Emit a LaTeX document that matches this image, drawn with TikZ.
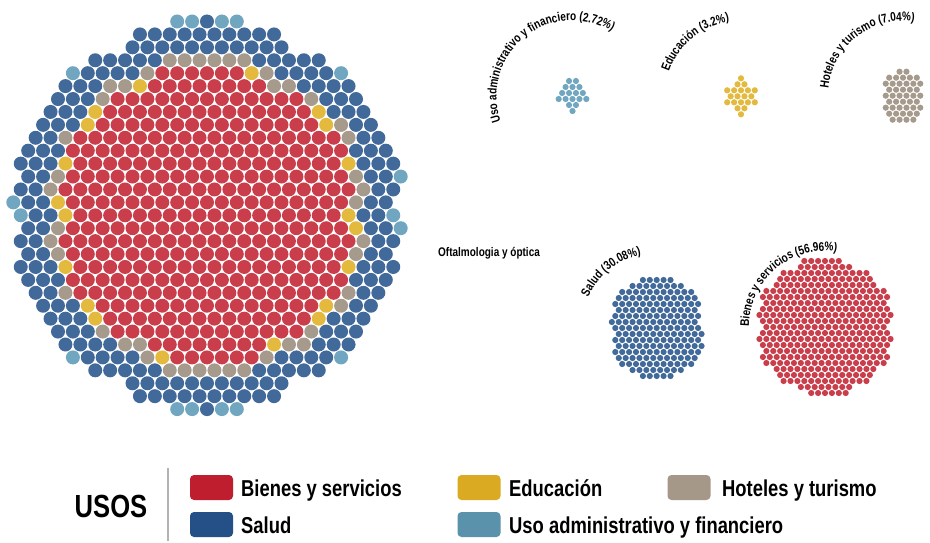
\documentclass[tikz,border=0pt]{standalone}
\usepackage{fontspec}
\setmainfont{Liberation Sans}
\newfontfamily\condf[FakeStretch=0.8]{Liberation Sans}
\usetikzlibrary{decorations.text}

% dot colours
\definecolor{kR}{RGB}{201,62,74}
\definecolor{kB}{RGB}{65,105,153}
\definecolor{kG}{RGB}{166,154,140}
\definecolor{kY}{RGB}{228,186,62}
\definecolor{kL}{RGB}{112,166,192}
% legend colours
\definecolor{lR}{RGB}{190,30,45}
\definecolor{lB}{RGB}{36,80,135}
\definecolor{lG}{RGB}{165,152,136}
\definecolor{lY}{RGB}{218,170,34}
\definecolor{lL}{RGB}{91,146,171}

\newcount\hexm
\newcount\hexk
% #1 row index, #2 first column, #3 list colour/count
\newcommand\hexrow[3]{%
  \global\hexk=#1\relax
  \global\hexm=#2\relax
  \foreach \hcol/\hnum in {#3}{%
    \foreach \hj in {1,...,\hnum}{%
      \fill[fill=k\hcol] ({\hcx+\hsx*(\the\hexm+0.5*mod(\the\hexk,2))},{-(\hcy+\hsy*\the\hexk)}) circle[radius=\hxr];
      \global\advance\hexm by 1\relax
    }%
  }%
}
\newcommand\labfont{\condf\bfseries\fontsize{12.5}{14}\selectfont}

\tikzset{
  swatch/.style={minimum width=43pt, minimum height=25pt, rounded corners=4pt, inner sep=0pt, draw=none},
  legtext/.style={font=\condf\bfseries\fontsize{23}{26}\selectfont, inner sep=0pt, anchor=base west, text=black},
  arclabel/.style={decorate, decoration={text along path, text align=center, text={|\labfont|#1}}}
}

\begin{document}
\begin{tikzpicture}[x=1pt,y=1pt]
\fill[white] (0,0) rectangle (930,-543);
\useasboundingbox (0,0) rectangle (930,-543);

% ---------------- big cluster ----------------
\def\hcx{207}\def\hsx{14.9}\def\hcy{21.5}\def\hsy{12.92}\def\hxr{7}
\hexrow{0}{-2}{L/2,B/1,L/2}
\hexrow{1}{-5}{B/10}
\hexrow{2}{-5}{B/11}
\hexrow{3}{-8}{B/5,G/6,B/5}
\hexrow{4}{-9}{L/1,B/4,G/1,R/6,Y/1,G/1,B/4,L/1}
\hexrow{5}{-10}{B/3,G/2,Y/1,R/8,G/2,B/4}
\hexrow{6}{-10}{B/3,G/1,R/13,G/1,B/3}
\hexrow{7}{-11}{B/3,Y/1,R/14,Y/1,B/3}
\hexrow{8}{-11}{B/3,Y/1,R/15,Y/1,G/1,B/2}
\hexrow{9}{-12}{B/2,G/1,R/18,G/1,B/2}
\hexrow{10}{-12}{B/3,R/19,B/3}
\hexrow{11}{-13}{B/3,Y/1,R/18,Y/1,B/3}
\hexrow{12}{-12}{B/2,G/1,R/19,G/1,B/2,L/1}
\hexrow{13}{-13}{B/2,G/1,R/20,G/1,B/2}
\hexrow{14}{-13}{L/1,B/2,Y/1,R/19,G/1,B/2}
\hexrow{15}{-13}{L/1,B/2,Y/1,R/18,Y/1,B/2,L/1}
\hexrow{16}{-12}{B/2,G/1,R/19,Y/1,B/2,L/1}
\hexrow{17}{-13}{B/2,G/1,R/20,G/1,B/2}
\hexrow{18}{-12}{B/2,G/1,R/19,G/1,B/2}
\hexrow{19}{-13}{B/3,Y/1,R/18,Y/1,B/3}
\hexrow{20}{-12}{B/3,R/19,B/3}
\hexrow{21}{-12}{B/2,G/1,R/18,G/1,B/2}
\hexrow{22}{-11}{B/3,Y/1,R/15,Y/1,G/1,B/2}
\hexrow{23}{-11}{B/3,Y/1,R/14,Y/1,B/3}
\hexrow{24}{-10}{B/3,G/1,R/13,G/1,B/3}
\hexrow{25}{-10}{B/4,G/2,R/8,Y/1,G/2,B/3}
\hexrow{26}{-9}{L/1,B/4,G/1,Y/1,R/6,G/1,B/4,L/1}
\hexrow{27}{-8}{B/5,G/6,B/5}
\hexrow{28}{-5}{B/11}
\hexrow{29}{-5}{B/10}
\hexrow{30}{-2}{L/2,B/1,L/2}

% ---------------- small clusters ----------------
\def\hsx{6.9}\def\hsy{6.0}\def\hxr{3.1}
% uso administrativo
\def\hcx{572.5}\def\hcy{75}
\hexrow{1}{-1}{L/2}
\hexrow{2}{-1}{L/3}
\hexrow{3}{-2}{L/4}
\hexrow{4}{-2}{L/5}
\hexrow{5}{-1}{L/2}
\hexrow{6}{0}{L/1}
% educacion
\def\hcx{741}\def\hcy{78.3}
\hexrow{0}{0}{Y/1}
\hexrow{1}{-1}{Y/2}
\hexrow{2}{-2}{Y/5}
\hexrow{3}{-2}{Y/4}
\hexrow{4}{-2}{Y/5}
\hexrow{5}{-1}{Y/2}
\hexrow{6}{0}{Y/1}
% hoteles
\def\hcx{903}\def\hcy{65.7}
\hexrow{1}{-1}{G/2}
\hexrow{2}{-2}{G/5}
\hexrow{3}{-3}{G/6}
\hexrow{4}{-2}{G/5}
\hexrow{5}{-3}{G/6}
\hexrow{6}{-2}{G/5}
\hexrow{7}{-3}{G/6}
\hexrow{8}{-2}{G/5}
\hexrow{9}{-2}{G/4}
% salud
\def\hcx{656.7}\def\hcy{280}
\hexrow{0}{-2}{B/5}
\hexrow{1}{-4}{B/8}
\hexrow{2}{-5}{B/11}
\hexrow{3}{-6}{B/12}
\hexrow{4}{-6}{B/13}
\hexrow{5}{-6}{B/12}
\hexrow{6}{-6}{B/13}
\hexrow{7}{-7}{B/13}
\hexrow{8}{-6}{B/13}
\hexrow{9}{-6}{B/13}
\hexrow{10}{-6}{B/13}
\hexrow{11}{-6}{B/13}
\hexrow{12}{-6}{B/13}
\hexrow{13}{-6}{B/12}
\hexrow{14}{-5}{B/11}
\hexrow{15}{-4}{B/8}
\hexrow{16}{-2}{B/5}
% bienes y servicios
\def\hcx{825}\def\hcy{237}
\hexrow{4}{-3}{R/6}
\hexrow{5}{-4}{R/8}
\hexrow{6}{-6}{R/13}
\hexrow{7}{-7}{R/14}
\hexrow{8}{-7}{R/15}
\hexrow{9}{-9}{R/18}
\hexrow{10}{-9}{R/19}
\hexrow{11}{-9}{R/18}
\hexrow{12}{-9}{R/19}
\hexrow{13}{-10}{R/20}
\hexrow{14}{-9}{R/19}
\hexrow{15}{-9}{R/18}
\hexrow{16}{-9}{R/19}
\hexrow{17}{-10}{R/20}
\hexrow{18}{-9}{R/19}
\hexrow{19}{-9}{R/18}
\hexrow{20}{-9}{R/19}
\hexrow{21}{-9}{R/18}
\hexrow{22}{-7}{R/15}
\hexrow{23}{-7}{R/14}
\hexrow{24}{-6}{R/13}
\hexrow{25}{-4}{R/8}
\hexrow{26}{-2}{R/6}

% ---------------- curved labels ----------------
\coordinate (cL) at (572.5,-96.5);
\coordinate (cY) at (741,-96.5);
\coordinate (cG) at (903,-96);
\coordinate (cB) at (656.7,-328);
\coordinate (cR) at (825,-327);
\path[arclabel={Uso administrativo y financiero (2.72{\%})}] (cL) ++(230:76) arc[start angle=230, end angle=28, radius=76];
\path[arclabel={Educación (3.2{\%})}] (cY) ++(230:76) arc[start angle=230, end angle=30, radius=76];
\path[arclabel={Hoteles y turismo (7.04{\%})}] (cG) ++(230:75) arc[start angle=230, end angle=26, radius=75];
\path[arclabel={Salud (30.08{\%})}] (cB) ++(230:75) arc[start angle=230, end angle=28, radius=75];
\path[arclabel={Bienes y servicios (56.96{\%})}] (cR) ++(230:76) arc[start angle=230, end angle=31, radius=76];

\node[font=\labfont, anchor=base west, inner sep=0pt] (oft) at (438,-256) {Oftalmologia y óptica};

% ---------------- legend ----------------
\node[font=\condf\bfseries\fontsize{32}{34}\selectfont, anchor=base, inner sep=0pt] (usos) at (111,-517) {USOS};
\coordinate (sepT) at (168,-468);
\coordinate (sepB) at (168,-541);
\draw[black!30, line width=1.3pt] (sepT) -- (sepB);

\node[swatch, fill=lR] (swR) at (211.5,-487.5) {};
\node[swatch, fill=lY] (swY) at (479,-487.5) {};
\node[swatch, fill=lG] (swG) at (689,-487.5) {};
\node[swatch, fill=lB] (swB) at (211.5,-524.5) {};
\node[swatch, fill=lL] (swL) at (479,-524.5) {};

\node[legtext] (tR) at (241,-496) {Bienes y servicios};
\node[legtext] (tY) at (509,-496) {Educación};
\node[legtext] (tG) at (722,-496) {Hoteles y turismo};
\node[legtext] (tB) at (241,-533) {Salud};
\node[legtext] (tL) at (509,-533) {Uso administrativo y financiero};
\end{tikzpicture}
\end{document}
